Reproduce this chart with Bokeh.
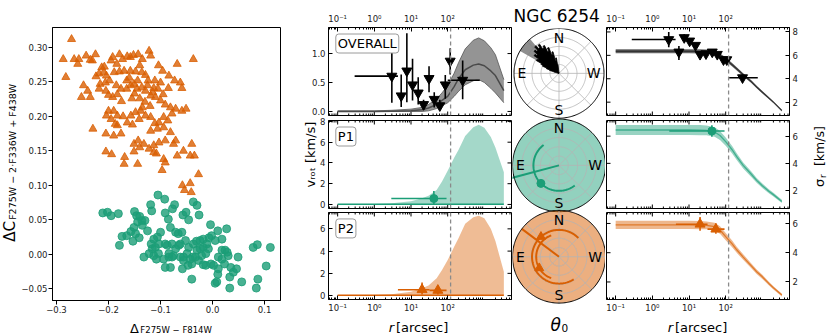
import numpy as np
from bokeh.plotting import figure
from bokeh.layouts import row, column
from bokeh.models import (Range1d, LinearAxis, LogAxis, FixedTicker,
                          CustomJSTickFormatter, Span, Label, Title)
from bokeh.core.properties import value
from bokeh.embed import file_html
from bokeh.resources import INLINE

FONT = "DejaVu Sans"
ORANGE = "#d95f02"
GREEN = "#1b9e77"

# ---------------- chromosome map (left panel) ----------------
pop2_points = [
    (-0.271, 0.312), (-0.287, 0.283), (-0.282, 0.257), (-0.266, 0.283), (-0.257, 0.283), (-0.259, 0.276),
    (-0.243, 0.288), (-0.235, 0.282), (-0.225, 0.290), (-0.231, 0.281), (-0.248, 0.245), (-0.240, 0.237),
    (-0.252, 0.228), (-0.235, 0.228), (-0.230, 0.182), (-0.224, 0.258), (-0.218, 0.262), (-0.213, 0.271),
    (-0.208, 0.272), (-0.209, 0.264), (-0.204, 0.259), (-0.195, 0.281), (-0.192, 0.286), (-0.184, 0.276),
    (-0.179, 0.290), (-0.173, 0.283), (-0.164, 0.287), (-0.158, 0.286), (-0.152, 0.289), (-0.143, 0.290),
    (-0.135, 0.283), (-0.140, 0.274), (-0.122, 0.295), (-0.119, 0.288), (-0.104, 0.274), (-0.096, 0.266),
    (-0.068, 0.276), (-0.037, 0.283), (-0.084, 0.259), (-0.073, 0.252), (-0.062, 0.249), (-0.059, 0.241),
    (-0.085, 0.241), (-0.100, 0.249), (-0.113, 0.241), (-0.111, 0.252), (-0.124, 0.252), (-0.129, 0.260),
    (-0.136, 0.264), (-0.148, 0.265), (-0.158, 0.266), (-0.170, 0.266), (-0.179, 0.265), (-0.189, 0.264),
    (-0.198, 0.252), (-0.206, 0.249), (-0.216, 0.247), (-0.218, 0.240), (-0.205, 0.237), (-0.200, 0.231),
    (-0.192, 0.228), (-0.183, 0.232), (-0.176, 0.240), (-0.165, 0.240), (-0.157, 0.245), (-0.151, 0.247),
    (-0.144, 0.252), (-0.136, 0.242), (-0.129, 0.237), (-0.119, 0.230), (-0.110, 0.228), (-0.100, 0.223),
    (-0.091, 0.217), (-0.081, 0.213), (-0.071, 0.211), (-0.059, 0.208), (-0.051, 0.211), (-0.078, 0.204),
    (-0.086, 0.194), (-0.094, 0.199), (-0.103, 0.191), (-0.111, 0.190), (-0.119, 0.199), (-0.129, 0.201),
    (-0.138, 0.208), (-0.148, 0.206), (-0.157, 0.201), (-0.164, 0.191), (-0.172, 0.200), (-0.183, 0.201),
    (-0.190, 0.208), (-0.200, 0.208), (-0.204, 0.201), (-0.195, 0.196), (-0.187, 0.189), (-0.205, 0.175),
    (-0.190, 0.172), (-0.176, 0.175), (-0.183, 0.187), (-0.154, 0.188), (-0.141, 0.196), (-0.119, 0.179),
    (-0.106, 0.182), (-0.094, 0.184), (-0.081, 0.177), (-0.071, 0.165), (-0.075, 0.160), (-0.091, 0.165),
    (-0.103, 0.162), (-0.113, 0.158), (-0.122, 0.153), (-0.132, 0.160), (-0.143, 0.165), (-0.151, 0.160),
    (-0.140, 0.155), (-0.151, 0.149), (-0.113, 0.148), (-0.108, 0.146), (-0.094, 0.138), (-0.091, 0.133),
    (-0.068, 0.143), (-0.056, 0.150), (-0.043, 0.143), (-0.035, 0.143), (-0.040, 0.160), (-0.097, 0.122),
    (-0.058, 0.100), (-0.054, 0.093), (-0.043, 0.103), (-0.041, 0.090), (-0.027, 0.116), (-0.205, 0.149),
    (-0.194, 0.145), (-0.169, 0.141), (-0.170, 0.131), (-0.144, 0.131), (-0.160, 0.256), (-0.150, 0.233),
    (-0.140, 0.226), (-0.130, 0.221), (-0.125, 0.245), (-0.145, 0.240), (-0.155, 0.226), (-0.165, 0.252),
    (-0.135, 0.213), (-0.120, 0.215), (-0.175, 0.222), (-0.185, 0.245), (-0.115, 0.235), (-0.105, 0.240),
    (-0.095, 0.232),
]
pop1_points = [
    (-0.211, 0.060), (-0.202, 0.061), (-0.195, 0.056), (-0.181, 0.059), (-0.150, 0.062), (-0.146, 0.056),
    (-0.140, 0.055), (-0.136, 0.049), (-0.144, 0.047), (-0.151, 0.039), (-0.157, 0.033), (-0.165, 0.027),
    (-0.174, 0.026), (-0.148, 0.030), (-0.141, 0.024), (-0.153, 0.019), (-0.125, 0.034), (-0.135, 0.042),
    (-0.130, 0.049), (-0.117, 0.063), (-0.119, 0.072), (-0.105, 0.086), (-0.092, 0.080), (-0.091, 0.060),
    (-0.085, 0.051), (-0.077, 0.066), (-0.073, 0.072), (-0.057, 0.057), (-0.051, 0.061), (-0.046, 0.050),
    (-0.037, 0.076), (-0.030, 0.071), (-0.026, 0.057), (-0.081, 0.039), (-0.071, 0.032), (-0.059, 0.032),
    (-0.066, 0.030), (-0.100, 0.032), (-0.106, 0.025), (-0.113, 0.022), (-0.103, 0.015), (-0.091, 0.015),
    (-0.087, 0.013), (-0.078, 0.015), (-0.071, 0.008), (-0.062, 0.015), (-0.052, 0.020), (-0.046, 0.010),
    (-0.037, 0.015), (-0.031, 0.019), (-0.024, 0.020), (-0.018, 0.022), (-0.007, 0.024), (-0.002, 0.027),
    (-0.004, 0.043), (0.010, 0.034), (0.027, 0.037), (0.018, 0.022), (0.005, 0.020), (-0.011, 0.015),
    (-0.018, 0.010), (-0.024, 0.008), (-0.030, 0.006), (-0.038, -0.004), (-0.049, 0.001), (-0.056, -0.004),
    (-0.062, -0.004), (-0.075, -0.002), (-0.084, -0.004), (-0.094, -0.007), (-0.104, 0.001), (-0.113, -0.002),
    (-0.116, 0.008), (-0.122, 0.001), (-0.132, -0.004), (-0.118, 0.015), (-0.110, 0.010), (-0.056, -0.009),
    (-0.058, -0.021), (-0.047, -0.016), (-0.040, -0.036), (-0.040, -0.014), (-0.027, -0.009), (-0.018, -0.015),
    (-0.013, -0.016), (-0.003, -0.014), (0.002, -0.016), (0.008, -0.040), (0.005, -0.042), (0.010, -0.029),
    (0.011, -0.021), (0.011, -0.004), (0.018, 0.006), (0.024, 0.006), (0.028, 0.003), (0.030, -0.002),
    (0.035, -0.019), (0.033, -0.033), (0.040, -0.026), (0.046, -0.021), (0.049, -0.004), (0.056, -0.040),
    (0.078, 0.010), (0.086, 0.014), (0.111, 0.010), (0.103, -0.017), (0.087, -0.036), (0.084, -0.049),
    (0.033, -0.049), (-0.091, -0.019), (-0.081, -0.019), (-0.078, -0.004), (-0.084, 0.001), (-0.013, 0.001),
    (-0.008, 0.008), (-0.021, -0.002), (-0.033, -0.004), (-0.043, -0.007), (0.018, -0.007), (0.023, -0.014),
    (-0.065, 0.013), (-0.108, -0.007), (-0.179, 0.013),
]
cmap_xticks = [-0.3, -0.2, -0.1, 0.0, 0.1]
cmap_yticks = [-0.05, 0.0, 0.05, 0.10, 0.15, 0.20, 0.25, 0.30]

# ---------------- model profiles vs radius ----------------
r_model = [0.1, 1, 3, 10, 20, 30, 50, 70, 100, 150, 200, 300, 500, 700, 1000, 1500, 2000, 3400]
vrot_all_mid = [0.0, 0.0, 0.005, 0.01, 0.03, 0.06, 0.12, 0.19, 0.26, 0.43, 0.57, 0.72, 0.80, 0.82, 0.79, 0.70, 0.62, 0.36]
vrot_all_lo = [0.0, 0.0, 0.0, 0.0, 0.0, 0.01, 0.05, 0.10, 0.15, 0.26, 0.35, 0.46, 0.53, 0.55, 0.50, 0.40, 0.32, 0.15]
vrot_all_hi = [0.01, 0.01, 0.02, 0.04, 0.07, 0.12, 0.22, 0.32, 0.45, 0.66, 0.85, 1.08, 1.23, 1.27, 1.22, 1.10, 0.98, 0.55]
vrot_p1_lo = [0.03] * 18
vrot_p1_hi = [0.03, 0.05, 0.12, 0.30, 0.60, 0.85, 1.40, 2.20, 3.25, 4.50, 5.30, 6.60, 7.45, 7.68, 7.40, 6.50, 5.50, 3.10]
vrot_p2_lo = [0.03] * 18
vrot_p2_hi = [0.03, 0.05, 0.12, 0.35, 0.65, 0.90, 1.55, 2.30, 3.19, 4.40, 5.20, 6.45, 7.05, 7.17, 6.95, 6.00, 4.90, 2.15]
sig_all_mid = [6.35, 6.35, 6.35, 6.35, 6.34, 6.32, 6.25, 6.02, 5.65, 5.20, 4.85, 4.35, 3.75, 3.30, 2.85, 2.35, 2.00, 1.28]
sig_all_err = [0.18, 0.18, 0.18, 0.18, 0.18, 0.18, 0.17, 0.17, 0.16, 0.15, 0.14, 0.13, 0.12, 0.11, 0.10, 0.09, 0.08, 0.07]
sig_p1_mid = [6.45, 6.45, 6.45, 6.45, 6.44, 6.42, 6.30, 6.05, 5.60, 5.00, 4.50, 3.85, 3.20, 2.75, 2.35, 1.95, 1.70, 1.20]
sig_p1_err = [0.37, 0.37, 0.37, 0.37, 0.37, 0.36, 0.35, 0.33, 0.30, 0.27, 0.25, 0.22, 0.20, 0.18, 0.17, 0.15, 0.14, 0.12]
sig_p2_mid = [5.90, 5.90, 5.90, 5.90, 5.89, 5.87, 5.78, 5.55, 5.10, 4.60, 4.20, 3.70, 3.10, 2.70, 2.35, 1.90, 1.60, 1.10]
sig_p2_err = [0.28, 0.28, 0.28, 0.28, 0.28, 0.27, 0.27, 0.26, 0.25, 0.23, 0.21, 0.19, 0.17, 0.15, 0.14, 0.12, 0.11, 0.10]
r_half = 120

# ---------------- binned measurements ----------------
ov_r = [3.0, 5.4, 7.7, 11, 15.7, 22, 31, 43, 61, 86, 117, 256]
ov_r_lo = [0.29, 5.4, 7.7, 11, 15.7, 22, 31, 43, 61, 86, 117, 100]
ov_r_hi = [4.4, 5.4, 7.7, 11, 15.7, 22, 31, 43, 61, 86, 117, 750]
ov_v = [0.61, 0.27, 0.70, 0.46, 0.32, 0.12, 0.57, 0.21, 0.10, 0.46, 0.87, 0.54]
ov_v_lo = [0.15, 0.075, 0.16, 0.19, 0.12, 0.03, 0.33, 0.07, 0.02, 0.22, 0.64, 0.21]
ov_v_hi = [1.25, 0.64, 1.35, 0.91, 0.59, 0.20, 0.78, 0.33, 0.20, 0.63, 1.09, 0.88]
os_r = [2.8, 5.3, 7.4, 10.4, 15, 20, 29, 43, 59, 87, 107, 288]
os_r_lo = [0.275, 5.3, 7.4, 10.4, 15, 20, 29, 43, 59, 87, 107, 124]
os_r_hi = [4.3, 5.3, 7.4, 10.4, 15, 20, 29, 43, 59, 87, 107, 750]
os_s = [7.35, 6.29, 7.52, 7.23, 6.86, 6.09, 6.14, 6.29, 6.09, 5.63, 5.63, 4.09]
os_s_lo = [6.70, 5.60, 7.25, 7.00, 6.65, 5.90, 5.95, 6.10, 5.90, 5.45, 5.45, 3.85]
os_s_hi = [8.00, 6.80, 7.80, 7.45, 7.05, 6.30, 6.30, 6.45, 6.25, 5.80, 5.80, 4.35]
p1b_r, p1b_r_lo, p1b_r_hi = [42], [2.9], [93]
p1b_v, p1b_v_lo, p1b_v_hi = [0.57], [0.0], [1.3]
p1b_s, p1b_s_lo, p1b_s_hi = [6.38], [5.95], [6.8]
p2b_r, p2b_r_lo, p2b_r_hi = [20, 54], [4.4, 32], [32, 93]
p2b_v, p2b_v_lo, p2b_v_hi = [0.53, 0.47], [0.09, 0.10], [1.18, 0.90]
p2b_s, p2b_s_lo, p2b_s_hi = [5.95, 5.61], [5.50, 5.30], [6.45, 6.00]

# ---------------- position-angle (theta_0) panels ----------------
all_hist_theta = [8, 11, 14, 17, 20, 23, 26, 29, 32, 35, 38, 41, 44, 47, 50, 53, 56, 59, 62, 65, 68, 71, 74]
all_hist_r = [0.20, 0.35, 0.30, 0.50, 0.45, 0.62, 0.55, 0.70, 0.66, 0.78, 0.72, 0.80, 0.70, 0.74, 0.64,
              0.68, 0.55, 0.58, 0.45, 0.40, 0.30, 0.22, 0.12]
all_wedge_theta = (40, 60)
all_wedge_r = (0.55, 1.0)
all_axis_theta = 50
p1_theta, p1_theta_lo, p1_theta_hi, p1_rad, p1_axis = 135, 37, 218, 0.55, 105
p2_theta = [42, 120]
p2_theta_lo = [-46, 20]
p2_theta_hi = [213, 160]
p2_rad = [0.58, 0.49]
p2_axis = 53

# ================= helpers =================
H = 334                      # page height (px); strips use y_data = H - y_screen
LX0, LX1 = -1.25, 3.74
XLO, XHI = 10 ** LX0, 10 ** LX1
FW, FH = 183, 88
MAJ = [0.1, 1, 10, 100]
MINOR = [m * 10.0 ** k for k in range(-2, 4) for m in range(2, 10) if XLO < m * 10.0 ** k < XHI]
TICK_FS = "8.5px"

LOG_FMT = CustomJSTickFormatter(code="""
const sup = {'-': '\u207b', '0': '\u2070', '1': '\u00b9', '2': '\u00b2', '3': '\u00b3'};
const e = Math.round(Math.log10(tick));
return '10' + String(e).split('').map(c => sup[c]).join('');
""")
FMT0 = CustomJSTickFormatter(code="return tick.toFixed(0);")
FMT1 = CustomJSTickFormatter(code="return tick.toFixed(1);")


def logmap(off):
    return 10 ** (LX0 + off / FW * (LX1 - LX0))


def linmap(yr, off):
    return yr[1] - off / FH * (yr[1] - yr[0])


def plain_fig(w, h, xr, yr, bl=0, br=0, bt=0, bb=0):
    p = figure(width=w, height=h, x_range=Range1d(*xr), y_range=Range1d(*yr),
               x_axis_location=None, y_axis_location=None, output_backend="svg",
               toolbar_location=None, min_border=0, min_border_left=bl, min_border_right=br,
               min_border_top=bt, min_border_bottom=bb)
    p.outline_line_color = None
    p.grid.visible = False
    p.background_fill_color = "white"
    p.border_fill_color = "white"
    return p


def txt(p, x, y, s, size, angle=0.0, align="left", baseline="alphabetic", style="normal"):
    p.text(x=[x], y=[y], text=[s], angle=angle, text_align=align, text_baseline=baseline,
           text_font=value(FONT), text_font_size=f"{size}px", text_font_style=style,
           text_color="black")


def style_axis(ax):
    ax.axis_line_color = "black"
    ax.axis_line_width = 1
    ax.major_tick_in = 4
    ax.major_tick_out = 0
    ax.minor_tick_in = 2
    ax.minor_tick_out = 0
    ax.major_tick_line_color = "black"
    ax.minor_tick_line_color = "black"
    ax.major_label_text_font = FONT
    ax.major_label_text_color = "#222222"
    ax.major_label_text_font_size = TICK_FS


def manual_ticks(p, yr, yticks, sides):
    span = yr[1] - yr[0]
    for side in sides:
        if side in ("below", "above"):
            y0 = yr[0] if side == "below" else yr[1]
            sgn = 1 if side == "below" else -1
            for tks, ln in ((MAJ, 4), (MINOR, 2)):
                d = sgn * ln / FH * span
                p.segment(x0=tks, x1=tks, y0=[y0] * len(tks), y1=[y0 + d] * len(tks),
                          line_color="black", line_width=1)
        else:
            fac = 10 ** (4 / FW * (LX1 - LX0))
            x0 = XLO if side == "left" else XHI
            x1 = XLO * fac if side == "left" else XHI / fac
            p.segment(x0=[x0] * len(yticks), x1=[x1] * len(yticks), y0=yticks, y1=yticks,
                      line_color="black", line_width=1)


def make_panel(w, h, bl, br, bt, bb, yr, yticks, yfmt, labeled):
    p = figure(width=w, height=h, x_axis_type="log", x_range=Range1d(XLO, XHI),
               y_range=Range1d(*yr), x_axis_location=None, y_axis_location=None,
               output_backend="svg", toolbar_location=None, min_border=0,
               min_border_left=bl, min_border_right=br, min_border_top=bt, min_border_bottom=bb)
    p.grid.visible = False
    p.outline_line_color = "black"
    p.outline_line_width = 1
    p.background_fill_color = "white"
    p.border_fill_color = "white"
    for side in labeled:
        if side in ("below", "above"):
            ax = LogAxis(ticker=FixedTicker(ticks=MAJ, minor_ticks=MINOR), formatter=LOG_FMT)
            style_axis(ax)
            ax.major_label_standoff = 4 if side == "above" else 3
        else:
            ax = LinearAxis(ticker=FixedTicker(ticks=yticks, minor_ticks=[]), formatter=yfmt)
            style_axis(ax)
            ax.major_label_standoff = 3
        p.add_layout(ax, side)
    manual_ticks(p, yr, yticks, [s for s in ("below", "above", "left", "right") if s not in labeled])
    p.add_layout(Span(location=r_half, dimension="height", line_color="#8a8a8a",
                      line_dash="4 3", line_width=1.3))
    return p


def errbars(p, x, xlo, xhi, y, ylo, yhi, color, lw=1.6):
    p.segment(x0=xlo, y0=y, x1=xhi, y1=y, line_color=color, line_width=lw)
    p.segment(x0=x, y0=ylo, x1=x, y1=yhi, line_color=color, line_width=lw)


def box_label(p, yr, text):
    p.add_layout(Label(x=logmap(7.3), y=linmap(yr, 6.5), text=text, text_font=FONT,
                       text_font_size="13px", text_align="left", text_baseline="top",
                       padding=2, border_line_color="#9a9a9a", border_line_width=1,
                       background_fill_color="white", border_radius=3, text_color="black"))


def band(p, mid, err, color, alpha, line_alpha):
    lo = [m - e for m, e in zip(mid, err)]
    hi = [m + e for m, e in zip(mid, err)]
    p.varea(x=r_model, y1=lo, y2=hi, fill_color=color, fill_alpha=alpha)
    p.line(r_model, mid, line_color=color, line_width=1.3, line_alpha=line_alpha)


# ================= far-left strip: y label of the chromosome map =================
plab = plain_fig(18, H, (0, 18), (0, H - 27), bt=27)
txt(plab, 9.0, H - 241, "\u0394C", 15, angle=np.pi / 2, baseline="middle")
txt(plab, 12.0, H - 219, "F275W \u2212 2\u00b7F336W + F438W", 9.5, angle=np.pi / 2, baseline="middle")

# ================= chromosome map =================
AX0, AX1 = -0.3076, 0.1305
AY0, AY1 = -0.067, 0.329
pa = figure(width=272, height=315, x_range=Range1d(AX0, AX1), y_range=Range1d(AY0, AY1),
            output_backend="svg", toolbar_location=None, min_border=0,
            min_border_left=31, min_border_right=10, min_border_top=27, min_border_bottom=15)
pa.grid.visible = False
pa.outline_line_color = "black"
pa.outline_line_width = 1
pa.background_fill_color = "white"
pa.border_fill_color = "white"
for ax, ticks, nd, so in ((pa.xaxis[0], cmap_xticks, 1, 1), (pa.yaxis[0], cmap_yticks, 2, 1)):
    ax.ticker = FixedTicker(ticks=ticks, minor_ticks=[])
    ax.formatter = CustomJSTickFormatter(code=f"""
        const a = Math.abs(tick) < 1e-9 ? 0 : tick;
        return (a < 0 ? '\u2212' : '') + Math.abs(a).toFixed({nd});""")
    ax.major_tick_out = 4
    ax.major_tick_in = 0
    ax.minor_tick_out = 0
    ax.major_label_standoff = so
    ax.major_label_text_font = FONT
    ax.major_label_text_font_size = TICK_FS
    ax.major_label_text_color = "#222222"
    ax.axis_line_color = "black"

pa.scatter([q[0] for q in pop2_points], [q[1] for q in pop2_points], marker="triangle",
           size=8, fill_color=ORANGE, line_color=ORANGE, fill_alpha=0.8, line_alpha=0.8)
pa.scatter([q[0] for q in pop1_points], [q[1] for q in pop1_points], marker="circle",
           size=8, fill_color=GREEN, line_color=GREEN, fill_alpha=0.8, line_alpha=0.8)

xstrip = plain_fig(272, 19, (49, 280), (0, 19), bl=31, br=10)
txt(xstrip, 127.5, H - 328.0, "\u0394", 13)
txt(xstrip, 138.0, H - 329.5, "F275W \u2212 F814W", 8.5)
col_a = column(pa, xstrip)

# ================= v_rot column =================
YR_B = [(-0.07, 1.45), (-0.39, 8.09), (-0.35, 7.47)]
YR_D = [(0.86, 8.38), (0.68, 7.15), (0.80, 6.75)]

b1 = make_panel(222, 117, 38, 1, 27, 2, YR_B[0], [0, 0.5, 1.0], FMT1, ["above", "left"])
b2 = make_panel(222, 92, 38, 1, 3, 1, YR_B[1], [0, 2, 4, 6, 8], FMT0, ["left"])
b3 = make_panel(222, 106, 38, 1, 3, 15, YR_B[2], [0, 2, 4, 6], FMT0, ["below", "left"])

b1.varea(x=r_model, y1=vrot_all_lo, y2=vrot_all_hi, fill_color="black", fill_alpha=0.42)
b1.line(r_model, vrot_all_lo, line_color="#555555", line_width=0.8)
b1.line(r_model, vrot_all_hi, line_color="#555555", line_width=0.8)
b1.line(r_model, vrot_all_mid, line_color="#4a4a4a", line_width=1.5)
errbars(b1, ov_r, ov_r_lo, ov_r_hi, ov_v, ov_v_lo, ov_v_hi, "black")
b1.scatter(ov_r, ov_v, marker="inverted_triangle", size=10, color="black")
box_label(b1, YR_B[0], "OVERALL")

b2.varea(x=r_model, y1=vrot_p1_lo, y2=vrot_p1_hi, fill_color=GREEN, fill_alpha=0.4)
b2.line(r_model, vrot_p1_lo, line_color=GREEN, line_width=1.5)
errbars(b2, p1b_r, p1b_r_lo, p1b_r_hi, p1b_v, p1b_v_lo, p1b_v_hi, GREEN)
b2.scatter(p1b_r, p1b_v, marker="circle", size=8, color=GREEN)
box_label(b2, YR_B[1], "P1")
b2.add_layout(Title(text="v\u1d63\u2092\u209c [km/s]", align="left", offset=21, standoff=0,
                    text_font=FONT, text_font_size="13px", text_font_style="normal",
                    text_color="black"), "left")

b3.varea(x=r_model, y1=vrot_p2_lo, y2=vrot_p2_hi, fill_color=ORANGE, fill_alpha=0.42)
b3.line(r_model, vrot_p2_lo, line_color=ORANGE, line_width=1.5)
errbars(b3, p2b_r, p2b_r_lo, p2b_r_hi, p2b_v, p2b_v_lo, p2b_v_hi, ORANGE)
b3.scatter(p2b_r, p2b_v, marker="triangle", size=10, color=ORANGE)
box_label(b3, YR_B[2], "P2")

strip_b = plain_fig(222, 19, (328, 511), (0, 19), bl=38, br=1)
txt(strip_b, 393.5, H - 327.0, "r", 13, align="right", style="italic")
txt(strip_b, 395.5, H - 327.0, "[arcsec]", 13)
col_b = column(b1, b2, b3, strip_b)

# ================= sigma column =================
d1 = make_panel(206, 117, 1, 22, 27, 2, YR_D[0], [2, 4, 6, 8], FMT0, ["above", "right"])
d2 = make_panel(206, 92, 1, 22, 3, 1, YR_D[1], [2, 4, 6], FMT0, ["right"])
d3 = make_panel(206, 106, 1, 22, 3, 15, YR_D[2], [2, 4, 6], FMT0, ["below", "right"])

band(d1, sig_all_mid, sig_all_err, "black", 0.6, 0.5)
errbars(d1, os_r, os_r_lo, os_r_hi, os_s, os_s_lo, os_s_hi, "black")
d1.scatter(os_r, os_s, marker="inverted_triangle", size=10, color="black")

band(d2, sig_p1_mid, sig_p1_err, GREEN, 0.45, 0.7)
errbars(d2, p1b_r, p1b_r_lo, p1b_r_hi, p1b_s, p1b_s_lo, p1b_s_hi, GREEN)
d2.scatter(p1b_r, p1b_s, marker="circle", size=8, color=GREEN)

band(d3, sig_p2_mid, sig_p2_err, ORANGE, 0.45, 0.7)
errbars(d3, p2b_r, p2b_r_lo, p2b_r_hi, p2b_s, p2b_s_lo, p2b_s_hi, ORANGE)
d3.scatter(p2b_r, p2b_s, marker="triangle", size=10, color=ORANGE)

strip_d = plain_fig(206, 19, (606, 789), (0, 19), bl=1, br=22)
txt(strip_d, 672.5, H - 327.0, "r", 13, align="right", style="italic")
txt(strip_d, 674.5, H - 327.0, "[arcsec]", 13)
col_d = column(d1, d2, d3, strip_d)

# far-right strip: sigma_r label
slab = plain_fig(20, H, (811, 831), (0, H - 27), bt=27)
txt(slab, 819.0, H - 186, "\u03c3", 13, angle=np.pi / 2, baseline="middle")
txt(slab, 822.0, H - 177, "r", 9, angle=np.pi / 2, baseline="middle")
txt(slab, 819.0, H - 165, "[km/s]", 12.5, angle=np.pi / 2, baseline="middle")

# ================= polar column =================
pc = plain_fig(93, H, (512, 605), (0, H - 27), bt=27)
pc.title.text = "NGC 6254"
pc.title.text_font = FONT
pc.title.text_font_size = "17px"
pc.title.text_font_style = "normal"
pc.title.text_color = "black"
pc.title.align = "left"
pc.title.offset = 1
pc.title.standoff = 6


def pxy(cx, cy, R, th0, r):
    a = np.radians(90.0 + np.asarray(th0, dtype=float))
    r = np.asarray(r, dtype=float)
    return cx + R * r * np.cos(a), cy + R * r * np.sin(a)


def polar_grid(cx, cy, R):
    th = np.linspace(0, 360, 181)
    for rr in (0.2, 0.4, 0.6, 0.8):
        xs, ys = pxy(cx, cy, R, th, np.full_like(th, rr))
        pc.line(xs, ys, line_color="#b4b4b4", line_width=0.8)
    for t in range(0, 360, 45):
        xs, ys = pxy(cx, cy, R, [t, t], [0, 1])
        pc.line(xs, ys, line_color="#b4b4b4", line_width=0.8)


def polar_frame(cx, cy, R):
    th = np.linspace(0, 360, 241)
    xs, ys = pxy(cx, cy, R, th, np.ones_like(th))
    pc.line(xs, ys, line_color="black", line_width=1)
    txt(pc, cx, cy + R - 1.5, "N", 14, align="center", baseline="top")
    txt(pc, cx, cy - R + 0.5, "S", 14, align="center", baseline="bottom")
    txt(pc, cx - R + 3.5, cy, "E", 14, align="left", baseline="middle")
    txt(pc, cx + R - 3.5, cy, "W", 14, align="right", baseline="middle")


def polar_disk(cx, cy, R, color, alpha):
    th = np.linspace(0, 360, 241)
    xs, ys = pxy(cx, cy, R, th, np.ones_like(th))
    pc.patch(xs, ys, fill_color=color, fill_alpha=alpha, line_color=None)


def polar_arc(cx, cy, R, t0, t1, rr, color, lw=2):
    th = np.linspace(t0, t1, 120)
    xs, ys = pxy(cx, cy, R, th, np.full_like(th, rr))
    pc.line(xs, ys, line_color=color, line_width=lw)


CX = 558.5
CY = [H - 72.0, H - 164.3, H - 256.0]
RR = [45.0, 46.5, 46.5]

# overall
polar_grid(CX, CY[0], RR[0])
wt = np.linspace(all_wedge_theta[0], all_wedge_theta[1], 30)
wx1, wy1 = pxy(CX, CY[0], RR[0], wt, np.full_like(wt, all_wedge_r[1]))
wx0, wy0 = pxy(CX, CY[0], RR[0], wt[::-1], np.full_like(wt, all_wedge_r[0]))
pc.patch(np.concatenate([wx1, wx0]), np.concatenate([wy1, wy0]), fill_color="#7a7a7a",
         fill_alpha=0.85, line_color=None)
ht, hr = [0.0], [0.0]
for t, r in zip(all_hist_theta, all_hist_r):
    ht += [t - 1.5, t + 1.5]
    hr += [r, r]
ht += [0.0]
hr += [0.0]
hx, hy = pxy(CX, CY[0], RR[0], ht, hr)
pc.patch(hx, hy, fill_color="black", line_color="black", line_width=0.8)
lx, ly = pxy(CX, CY[0], RR[0], [all_axis_theta, all_axis_theta], [0, 0.62])
pc.line(lx, ly, line_color="black", line_width=1.5)
polar_frame(CX, CY[0], RR[0])

# P1
polar_disk(CX, CY[1], RR[1], GREEN, 0.48)
polar_grid(CX, CY[1], RR[1])
polar_arc(CX, CY[1], RR[1], p1_theta_lo, p1_theta_hi, p1_rad, GREEN)
lx, ly = pxy(CX, CY[1], RR[1], [p1_axis, p1_axis], [0, 1.07])
pc.line(lx, ly, line_color=GREEN, line_width=2)
mx, my = pxy(CX, CY[1], RR[1], [p1_theta], [p1_rad])
pc.scatter(mx, my, marker="circle", size=8, color=GREEN)
polar_frame(CX, CY[1], RR[1])

# P2
polar_disk(CX, CY[2], RR[2], ORANGE, 0.5)
polar_grid(CX, CY[2], RR[2])
for t0, t1, rr in zip(p2_theta_lo, p2_theta_hi, p2_rad):
    polar_arc(CX, CY[2], RR[2], t0, t1, rr, ORANGE)
lx, ly = pxy(CX, CY[2], RR[2], [p2_axis, p2_axis], [0, 1.0])
pc.line(lx, ly, line_color=ORANGE, line_width=2)
mx, my = pxy(CX, CY[2], RR[2], p2_theta, p2_rad)
pc.scatter(mx, my, marker="triangle", size=9, color=ORANGE)
polar_frame(CX, CY[2], RR[2])

txt(pc, 550, H - 324.5, "\u03b8", 17, style="italic")
txt(pc, 561, H - 327.0, "0", 10.5)

layout = row(plab, col_a, col_b, pc, col_d, slab)
with open("out.html", "w") as f:
    f.write(file_html(layout, INLINE, title="NGC 6254"))
